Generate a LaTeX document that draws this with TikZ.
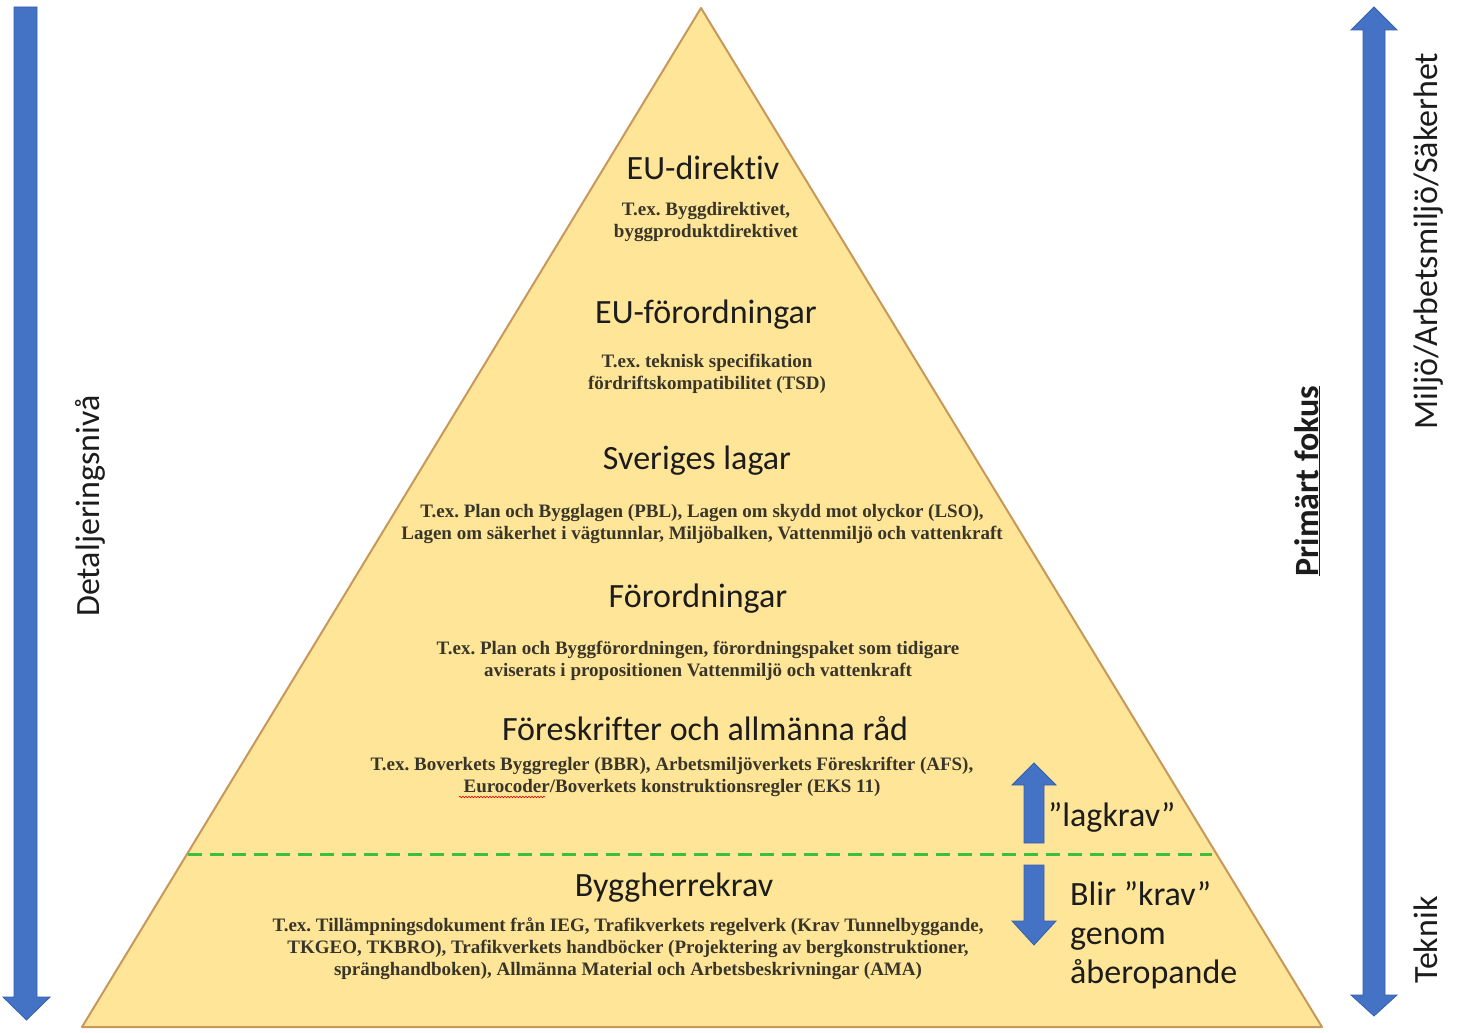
\documentclass[tikz,border=0pt]{standalone}
\usepackage{fontspec}
\setmainfont{Liberation Serif}
\newfontfamily\carl[Ligatures=NoCommon]{Carlito}
\usetikzlibrary{decorations.pathmorphing}
\frenchspacing
\definecolor{pyr}{HTML}{FFE597}
\definecolor{pyredge}{HTML}{C8985A}
\definecolor{arrblue}{HTML}{4472C4}
\definecolor{arredge}{HTML}{3560AE}
\definecolor{dgreen}{HTML}{3CBF3C}
\definecolor{smalltxt}{HTML}{38362A}
\definecolor{titletxt}{HTML}{1C1C1C}
\begin{document}
\begin{tikzpicture}[x=1pt,y=-1pt,
  title/.style={font=\carl\fontsize{34}{40}\selectfont, text=titletxt, anchor=base, inner sep=0pt},
  note/.style={font=\bfseries\fontsize{19}{22}\selectfont, text=smalltxt, align=center, anchor=center, inner sep=0pt},
  side/.style={font=\carl\fontsize{34}{40}\selectfont, text=titletxt, anchor=base, inner sep=0pt, rotate=90},
  sidetxt/.style={font=\carl\fontsize{34}{40}\selectfont, text=titletxt, anchor=base west, inner sep=0pt},
  blockarrow/.style={fill=arrblue, draw=arredge, line width=0.8pt, line join=miter}]
\useasboundingbox (0,0) rectangle (1459,1033);
\fill[white] (0,0) rectangle (1459,1033);

% pyramid
\filldraw[fill=pyr, draw=pyredge, line width=2pt, line join=round] (701,8) -- (1322,1027) -- (82,1027) -- cycle;

% left arrow (down)
\path[blockarrow] (14,7) -- (37,7) -- (37,997) -- (50,997) -- (26.5,1020) -- (3,997) -- (14,997) -- cycle;

% right double arrow
\path[blockarrow] (1374,7) -- (1397,30) -- (1385,30) -- (1385,995) -- (1397,995) -- (1374,1016) -- (1351,995) -- (1363,995) -- (1363,30) -- (1351,30) -- cycle;

% small arrows
\path[blockarrow] (1034,763) -- (1056,785) -- (1044,785) -- (1044,843) -- (1024,843) -- (1024,785) -- (1012,785) -- cycle;
\path[blockarrow] (1024,865) -- (1044,865) -- (1044,921) -- (1056,921) -- (1034,945) -- (1012,921) -- (1024,921) -- cycle;

% dashed divider
\draw[dgreen, line width=3pt, dash pattern=on 14pt off 8pt] (188,854) -- (1212,854);

% titles
\node[title] (t1) at (703,179) {EU-direktiv};
\node[title] (t2) at (706,323) {EU-förordningar};
\node[title] (t3) at (697,469) {Sveriges lagar};
\node[title] (t4) at (698,607) {Förordningar};
\node[title] (t5) at (705,740) {Föreskrifter och allmänna råd};
\node[title] (t6) at (674,896) {Byggherrekrav};

% notes
\node[note] (n1) at (706,222) {T.ex. Byggdirektivet,\\byggproduktdirektivet};
\node[note] (n2) at (707,374) {T.ex. teknisk specifikation\\fördriftskompatibilitet (TSD)};
\node[note] (n3) at (702,524) {T.ex. Plan och Bygglagen (PBL), Lagen om skydd mot olyckor (LSO),\\Lagen om säkerhet i vägtunnlar, Miljöbalken, Vattenmiljö och vattenkraft};
\node[note] (n4) at (698,661) {T.ex. Plan och Byggförordningen, förordningspaket som tidigare\\aviserats i propositionen Vattenmiljö och vattenkraft};
\node[note] (n5) at (672,777) {T.ex. Boverkets Byggregler (BBR), Arbetsmiljöverkets Föreskrifter (AFS),\\Eurocoder/Boverkets konstruktionsregler (EKS 11)};
\node[note] (n6) at (628,949) {T.ex. Tillämpningsdokument från IEG, Trafikverkets regelverk (Krav Tunnelbyggande,\\TKGEO, TKBRO), Trafikverkets handböcker (Projektering av bergkonstruktioner,\\spränghandboken), Allmänna Material och Arbetsbeskrivningar (AMA)};

% spell-check squiggle under Eurocoder
\draw[red!85!black, line width=0.6pt, decorate, decoration={snake, amplitude=0.8pt, segment length=3pt}] (459,797) -- (545,797);

% arrow labels
\node[sidetxt] (lk) at (1048,826) {”lagkrav”};
\node[sidetxt] (bk1) at (1070,905) {Blir ”krav”};
\node[sidetxt] (bk2) at (1070,944) {genom};
\node[sidetxt] (bk3) at (1070,983) {åberopande};

% side labels
\node[side] (det) at (99,506) {Detaljeringsnivå};
\node[side] (mil) at (1437,241) {Miljö/Arbetsmiljö/Säkerhet};
\node[side] (tek) at (1437,940) {Teknik};
\node[side, font=\carl\bfseries\fontsize{34}{40}\selectfont] (pf) at (1318,481) {\underline{Primärt fokus}};
\end{tikzpicture}
\end{document}
